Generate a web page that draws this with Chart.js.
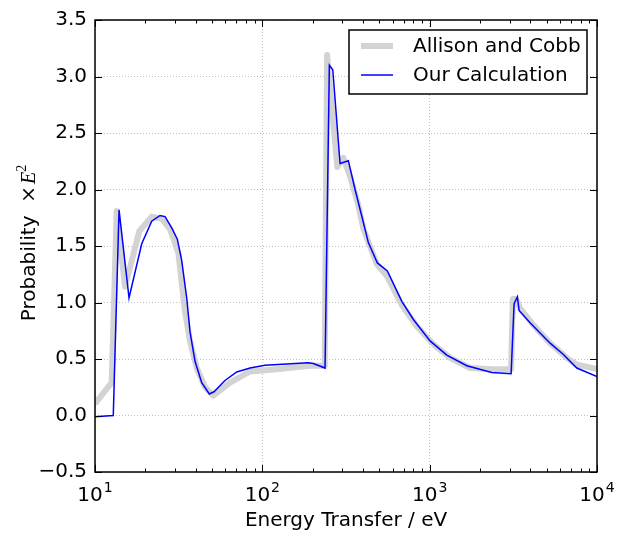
<!DOCTYPE html>
<html>
<head>
<meta charset="utf-8">
<script src="https://cdn.jsdelivr.net/npm/chart.js@4"></script>
<style>
  body { margin: 0; background: #fff; }
  canvas { display: block; }
</style>
</head>
<body>
<canvas id="myChart" width="633" height="536"></canvas>
<script>
// Allison and Cobb curve (energy in eV, probability x E^2)
let acEnergy = [10, 12.58, 13.48, 15.11, 18.4, 21.83, 25.05, 28.07, 31.47, 34.51, 36.97, 40.55, 45.46, 50.95,
  64.12, 84.45, 121.9, 192.8, 236, 243.8, 280.6, 305, 334, 375, 402, 483, 558, 681, 837, 1053, 1325, 1743,
  2400, 3067, 3140, 3284, 3467, 4169, 5245, 6590, 7574, 10000];
let acValue = [0.105, 0.29, 1.81, 1.14, 1.63, 1.76, 1.74, 1.65, 1.44, 0.92, 0.66, 0.42, 0.25, 0.175,
  0.29, 0.39, 0.41, 0.44, 0.44, 3.19, 2.20, 2.28, 2.12, 1.86, 1.65, 1.34, 1.23, 0.98, 0.79, 0.63, 0.51, 0.42,
  0.41, 0.41, 1.03, 1.03, 0.95, 0.80, 0.64, 0.51, 0.45, 0.41];

// our calculation
let calcEnergy = [10, 12.86, 13.92, 15.97, 19.02, 21.83, 24.47, 26.21, 28.74, 31.04, 32.98, 35.33, 36.97, 39.61,
  43.43, 48.23, 51.44, 59.84, 70.31, 84.45, 103.8, 188.4, 201.8, 237, 251.5, 263.6, 291.4, 326.6, 358.2, 392.7,
  430.1, 486.9, 558.7, 681.3, 799.2, 1005.5, 1265.9, 1666.6, 2350.9, 3067, 3196, 3344, 3423, 3982, 4570, 5245,
  6298, 7574, 10000];
let calcValue = [-0.01, 0.0, 1.82, 1.04, 1.52, 1.72, 1.77, 1.76, 1.66, 1.56, 1.37, 1.04, 0.74, 0.48,
  0.29, 0.19, 0.21, 0.31, 0.385, 0.42, 0.445, 0.467, 0.46, 0.42, 3.10, 3.06, 2.23, 2.255, 2.0, 1.765,
  1.53, 1.35, 1.28, 1.01, 0.85, 0.66, 0.535, 0.44, 0.38, 0.37, 0.99, 1.05, 0.93, 0.82, 0.73, 0.64,
  0.54, 0.42, 0.345];

let seriesLabels = ['Allison and Cobb', 'Our Calculation'];
let xTicks = [10, 100, 1000, 10000];
let xTickPowers = ['1', '2', '3', '4'];

let toPoints = (xs, ys) => xs.map((x, i) => ({ x: x, y: ys[i] }));

const fontName = 'DejaVu Sans';
const gridColor = 'rgba(0,0,0,0.25)';

// frame, inward ticks, log tick labels, y title and legend box
let decorations = {
  id: 'decorations',
  afterDraw(chart) {
    let ctx = chart.ctx;
    let area = chart.chartArea;
    let xs = chart.scales.x, ys = chart.scales.y;
    ctx.save();

    ctx.strokeStyle = '#000';
    ctx.lineWidth = 1;
    ctx.beginPath();
    xTicks.forEach(v => {
      let px = Math.round(xs.getPixelForValue(v)) + 0.5;
      ctx.moveTo(px, area.bottom); ctx.lineTo(px, area.bottom - 7);
      ctx.moveTo(px, area.top); ctx.lineTo(px, area.top + 7);
      if (v < xs.max) {
        for (let m = 2; m < 10; m++) {
          let p = Math.round(xs.getPixelForValue(v * m)) + 0.5;
          ctx.moveTo(p, area.bottom); ctx.lineTo(p, area.bottom - 3.5);
          ctx.moveTo(p, area.top); ctx.lineTo(p, area.top + 3.5);
        }
      }
    });
    ys.ticks.forEach(t => {
      let py = Math.round(ys.getPixelForValue(t.value)) + 0.5;
      ctx.moveTo(area.left, py); ctx.lineTo(area.left + 7, py);
      ctx.moveTo(area.right, py); ctx.lineTo(area.right - 7, py);
    });
    ctx.stroke();

    ctx.lineWidth = 1.5;
    ctx.strokeRect(area.left, area.top, area.right - area.left, area.bottom - area.top);

    // 10^n labels
    ctx.fillStyle = '#000';
    ctx.textBaseline = 'alphabetic';
    ctx.textAlign = 'left';
    xTicks.forEach((v, i) => {
      let px = xs.getPixelForValue(v);
      ctx.font = '20px ' + fontName;
      let w1 = ctx.measureText('10').width;
      ctx.font = '14px ' + fontName;
      let w2 = ctx.measureText(xTickPowers[i]).width;
      let start = px - (w1 + w2 + 1) / 2;
      ctx.font = '20px ' + fontName;
      ctx.fillText('10', start, 501);
      ctx.font = '14px ' + fontName;
      ctx.fillText(xTickPowers[i], start + w1 + 1, 492);
    });

    ctx.font = '20px ' + fontName;
    ctx.textAlign = 'center';
    ctx.fillText('Energy Transfer / eV', (area.left + area.right) / 2, 526);

    // y title: Probability  ×E²
    let parts = [
      { t: 'Probability  ', f: '20px ' + fontName, dy: 0 },
      { t: '\u00d7', f: '20px "DejaVu Serif"', dy: 0 },
      { t: 'E', f: 'italic 20px "Liberation Serif"', dy: 0 },
      { t: '2', f: '14px "Liberation Serif"', dy: -9 }
    ];
    let total = 0;
    parts.forEach(p => { ctx.font = p.f; p.w = ctx.measureText(p.t).width; total += p.w + (p.t === '\u00d7' ? 2 : 0); });
    ctx.save();
    ctx.translate(35, (area.top + area.bottom) / 2 - 3);
    ctx.rotate(-Math.PI / 2);
    ctx.textAlign = 'left';
    let cx = -total / 2;
    parts.forEach(p => {
      ctx.font = p.f;
      ctx.fillText(p.t, cx, p.dy);
      cx += p.w + (p.t === '\u00d7' ? 2 : 0);
    });
    ctx.restore();

    // legend
    let boxW = 238, boxH = 64;
    let bx = area.right - 10 - boxW, by = area.top + 10;
    ctx.fillStyle = '#fff';
    ctx.fillRect(bx, by, boxW, boxH);
    ctx.lineWidth = 1.5;
    ctx.strokeStyle = '#000';
    ctx.strokeRect(bx, by, boxW, boxH);
    ctx.font = '20px ' + fontName;
    ctx.textAlign = 'left';
    ctx.textBaseline = 'middle';
    chart.data.datasets.forEach((ds, i) => {
      let ly = by + 16 + i * 29;
      ctx.strokeStyle = ds.borderColor;
      ctx.lineWidth = ds.borderWidth;
      ctx.beginPath();
      ctx.moveTo(bx + 12, ly);
      ctx.lineTo(bx + 44, ly);
      ctx.stroke();
      ctx.fillStyle = '#000';
      ctx.fillText(ds.label, bx + 64, ly + 1);
    });
    ctx.restore();
  }
};

let myChart = document.getElementById('myChart').getContext('2d');

let chart = new Chart(myChart, {
  type: 'line',
  data: {
    datasets: [{
      label: seriesLabels[0],
      data: toPoints(acEnergy, acValue),
      borderColor: '#d3d3d3',
      borderWidth: 6,
      borderJoinStyle: 'round',
      pointRadius: 0,
      tension: 0,
      clip: 0,
      order: 1
    }, {
      label: seriesLabels[1],
      data: toPoints(calcEnergy, calcValue),
      borderColor: '#0000ff',
      borderWidth: 1.5,
      pointRadius: 0,
      tension: 0,
      clip: 0,
      order: 0
    }]
  },
  options: {
    responsive: false,
    animation: false,
    layout: { padding: { top: 15, right: 36, left: 0, bottom: 0 } },
    plugins: { legend: { display: false }, tooltip: { enabled: false } },
    scales: {
      x: {
        type: 'logarithmic',
        min: 10,
        max: 10000,
        afterBuildTicks: s => { s.ticks = xTicks.map(v => ({ value: v })); },
        afterFit: s => { s.height = 64; },
        ticks: { display: false },
        grid: { color: gridColor, drawTicks: false },
        border: { display: false, dash: [1, 2] }
      },
      y: {
        min: -0.5,
        max: 3.5,
        afterFit: s => { s.width = 95; },
        ticks: {
          stepSize: 0.5,
          padding: 8,
          color: '#000',
          font: { family: fontName, size: 20 },
          callback: v => v.toFixed(1).replace('-', '\u2212')
        },
        grid: { color: gridColor, drawTicks: false },
        border: { display: false, dash: [1, 2] }
      }
    }
  },
  plugins: [decorations]
});
</script>
</body>
</html>
